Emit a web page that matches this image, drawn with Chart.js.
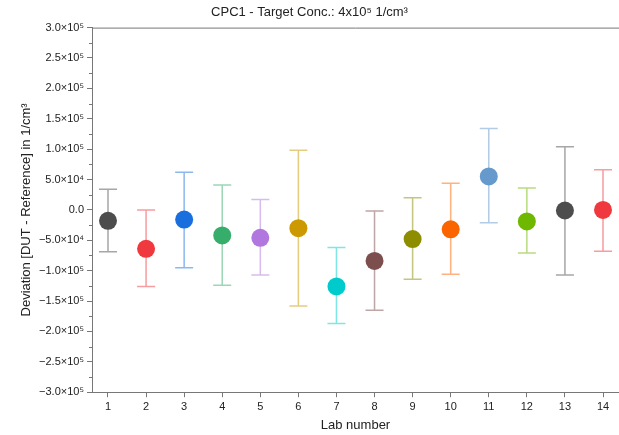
<!DOCTYPE html>
<html>
<head>
<meta charset="utf-8">
<script src="https://cdn.jsdelivr.net/npm/chart.js@4"></script>
<style>
  html, body { margin: 0; padding: 0; background: #fff; }
  #wrap { width: 619px; height: 435px; }
</style>
</head>
<body>
<div id="wrap"><canvas id="c" width="619" height="435"></canvas></div>
<script>
// data
const labs = [1, 2, 3, 4, 5, 6, 7, 8, 9, 10, 11, 12, 13, 14];
const deviation = [-18000, -64000, -16000, -42000, -46000, -30000, -126000, -84000, -48000, -32000, 55000, -19000, -1000, 0];
const errUpper = [34000, 0, 62000, 41000, 17000, 98000, -62000, -2000, 20000, 44000, 134000, 36000, 104000, 66000];
const errLower = [-69000, -126000, -95000, -124000, -107000, -158000, -187000, -165000, -114000, -106000, -21000, -71000, -107000, -68000];
const colors = ['#4d4d4d', '#f0393f', '#1a6fdf', '#37ad6b', '#b177de', '#cc9900', '#00cbcc', '#7d4e4e',
  '#8e8c00', '#fb6500', '#6699cc', '#6fb802', '#4d4d4d', '#f0393f'];
const yTicks = [-300000, -250000, -200000, -150000, -100000, -50000, 0, 50000, 100000, 150000, 200000, 250000, 300000];

const SUP = { '0': '⁰', '1': '¹', '2': '²', '3': '³', '4': '⁴', '5': '⁵', '6': '⁶', '7': '⁷', '8': '⁸', '9': '⁹' };

function sci(v) {
  if (v === 0) return '0.0';
  const exp = Math.floor(Math.log10(Math.abs(v)));
  const man = (Math.abs(v) / Math.pow(10, exp)).toFixed(1);
  return (v < 0 ? '\u2212' : '') + man + '×10' + String(exp).split('').map(d => SUP[d]).join('');
}

function rgba(hex, a) {
  const n = parseInt(hex.slice(1), 16);
  return `rgba(${n >> 16},${(n >> 8) & 255},${n & 255},${a})`;
}

const errorBars = {
  id: 'errorBars',
  beforeDatasetsDraw(chart) {
    const { ctx, scales: { x, y } } = chart;
    labs.forEach((lab, i) => {
      const px = x.getPixelForValue(lab);
      const top = y.getPixelForValue(errUpper[i]);
      const bot = y.getPixelForValue(errLower[i]);
      ctx.save();
      ctx.strokeStyle = rgba(colors[i], 0.5);
      ctx.lineWidth = 1.5;
      ctx.beginPath();
      ctx.moveTo(px, top); ctx.lineTo(px, bot);
      ctx.moveTo(px - 9, top); ctx.lineTo(px + 9, top);
      ctx.moveTo(px - 9, bot); ctx.lineTo(px + 9, bot);
      ctx.stroke();
      ctx.restore();
    });
  },
  afterDraw(chart) {
    const { ctx, chartArea: a, scales: { y } } = chart;
    ctx.save();
    ctx.strokeStyle = '#777';
    ctx.lineWidth = 1;
    ctx.beginPath();
    ctx.moveTo(a.left, a.top + 0.5); ctx.lineTo(a.right, a.top + 0.5);
    ctx.stroke();
    // minor ticks on y
    ctx.beginPath();
    for (let i = 0; i < yTicks.length - 1; i++) {
      const py = Math.round(y.getPixelForValue((yTicks[i] + yTicks[i + 1]) / 2)) + 0.5;
      ctx.moveTo(a.left - 3, py); ctx.lineTo(a.left, py);
    }
    ctx.stroke();
    ctx.restore();
  }
};

new Chart(document.getElementById('c'), {
  type: 'scatter',
  data: {
    datasets: [{
      data: labs.map((lab, i) => ({ x: lab, y: deviation[i] })),
      pointRadius: 9,
      pointHoverRadius: 9,
      pointBorderWidth: 0,
      pointBackgroundColor: colors,
      pointBorderColor: colors
    }]
  },
  options: {
    responsive: false,
    animation: false,
    layout: { autoPadding: false, padding: { top: 0, right: 0, left: 0, bottom: 2 } },
    plugins: {
      legend: { display: false },
      tooltip: { enabled: false },
      title: {
        display: true,
        text: 'CPC1 - Target Conc.: 4x10⁵ 1/cm³',
        color: '#222',
        font: { family: 'Liberation Sans', size: 13, weight: 'normal' },
        padding: { top: 5, bottom: 7 }
      }
    },
    scales: {
      x: {
        type: 'linear',
        min: 0.58,
        max: 14.42,
        afterBuildTicks: s => { s.ticks = labs.map(v => ({ value: v })); },
        afterFit: s => { s.paddingRight = 0; },
        grid: { drawOnChartArea: false, tickLength: 5, color: '#777' },
        border: { color: '#777', width: 1 },
        ticks: { color: '#222', font: { family: 'Liberation Sans', size: 11 }, padding: 3 },
        title: { display: true, text: 'Lab number', color: '#222', font: { family: 'Liberation Sans', size: 13 }, padding: { top: 1, bottom: 0 } }
      },
      y: {
        min: -300000,
        max: 300000,
        afterBuildTicks: s => { s.ticks = yTicks.map(v => ({ value: v })); },
        afterFit: s => { s.width = 92; },
        grid: { drawOnChartArea: false, tickLength: 5, color: '#777' },
        border: { color: '#777', width: 1 },
        ticks: { color: '#222', font: { family: 'Liberation Sans', size: 11 }, padding: 3, callback: v => sci(v) },
        title: { display: true, text: 'Deviation [DUT - Reference] in 1/cm³', color: '#222', font: { family: 'Liberation Sans', size: 13 }, padding: { top: 19, bottom: 0 } }
      }
    }
  },
  plugins: [errorBars]
});
</script>
</body>
</html>
